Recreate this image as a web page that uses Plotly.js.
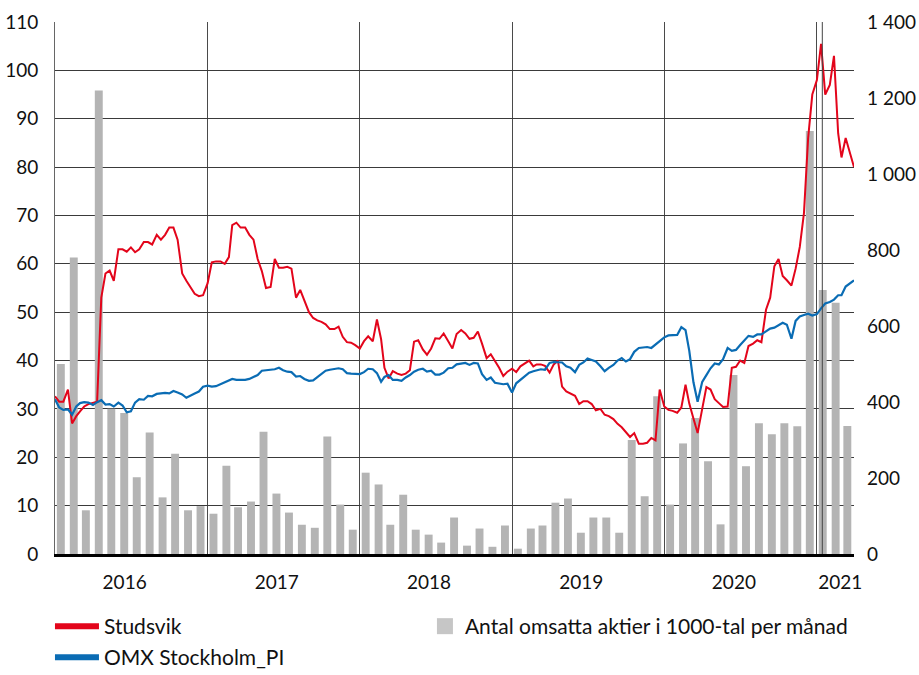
<!DOCTYPE html>
<html>
<head>
<meta charset="utf-8">
<script src="https://cdn.plot.ly/plotly-3.0.1.min.js"></script>
<style>html,body{margin:0;padding:0;background:#fff;}#chart{width:919px;height:675px;}</style>
</head>
<body>
<div id="chart"></div>
<script>
// Monthly traded volume (thousands of shares), Jan 2016 .. Mar 2021
const volume = [
  500, 780, 115, 1220, 382, 371, 202, 320, 149, 264, 115, 126,
  106, 232, 123, 138, 322, 159, 109, 77, 69, 309, 130, 64,
  214, 183, 77, 156, 64, 51, 30, 96, 22, 67, 19, 75,
  14, 67, 75, 135, 146, 56, 96, 96, 56, 300, 152, 415,
  130, 291, 358, 244, 78, 471, 231, 344, 315, 344, 336, 1113,
  695, 661, 337
];

// Studsvik share price, sampled on the 1st, 11th and 21st of each month + 2021-03-31
const studsvik = [
  32.6,31.5,31.5, 34.0,27.0,28.5, 29.5,30.5,31.0, 31.2,31.5,53.0,
  58.0,58.6,56.5, 63.0,63.0,62.5, 63.4,62.4,63.0, 64.5,64.5,64.0,
  66.0,65.0,66.0, 67.5,67.5,65.0, 58.0,56.5,55.0, 53.8,53.3,53.5,
  56.0,60.3,60.5, 60.5,60.0,61.4, 68.0,68.5,67.5, 67.5,66.0,65.0,
  61.0,58.5,55.0, 55.2,61.0,59.2, 59.2,59.4,59.0, 53.0,54.6,52.5,
  50.0,48.8,48.3, 48.0,47.5,46.5, 46.5,47.0,44.9, 43.8,43.7,43.2,
  42.5,44.0,45.0, 44.0,48.5,44.4, 38.5,36.3,37.8, 37.3,37.0,37.3,
  38.0,43.9,44.2, 42.3,41.2,42.5, 44.6,44.5,45.6, 44.0,42.5,45.5,
  46.3,45.6,44.5, 44.7,46.0,43.5, 40.5,41.3,40.0, 38.5,36.8,37.7,
  38.3,37.6,38.8, 39.4,40.0,38.8, 39.2,39.2,38.9, 37.5,39.2,40.0,
  34.6,33.6,33.1, 32.7,31.0,31.6, 31.6,31.0,29.7, 30.0,28.8,28.5,
  27.9,26.9,26.2, 25.2,24.2,25.0, 22.8,22.8,23.0, 24.0,23.5,34.0,
  30.5,29.8,29.6, 29.2,30.3,35.0, 31.1,28.0,25.0, 30.0,34.5,34.0,
  32.0,31.2,30.4, 30.5,38.5,38.7, 40.0,39.5,43.0, 43.5,44.2,43.8,
  50.5,53.0,59.5, 61.0,57.5,56.6, 55.5,59.0,63.5, 70.5,86.0,95.0,
  98.0,105.5,95.0, 97.0,103.0,87.0, 82.0,86.0,83.0,
  80.0
];

// OMX Stockholm_PI (rebased), same sampling
const omx = [
  32.0,30.3,29.8, 29.9,28.8,30.5, 31.2,31.4,31.3, 30.8,31.4,31.8,
  30.9,31.0,30.5, 31.3,30.7,29.3, 29.5,31.3,32.0, 31.9,32.7,32.6,
  33.1,33.2,33.3, 33.2,33.7,33.4, 33.0,32.3,32.8, 33.2,33.6,34.6,
  34.8,34.6,34.7, 35.1,35.5,36.0, 36.2,36.0,36.0, 36.0,36.2,36.6,
  37.0,37.9,38.0, 38.1,38.2,38.5, 38.0,37.7,37.6, 36.7,36.8,36.2,
  35.8,35.9,36.6, 37.2,37.9,38.1, 38.3,38.4,38.2, 37.4,37.3,37.2,
  37.2,37.6,38.3, 38.2,37.4,35.6, 36.6,37.0,36.0, 36.0,35.8,36.5,
  37.0,37.7,38.1, 38.3,37.7,37.9, 37.1,37.1,37.5, 38.4,38.5,39.2,
  39.3,39.5,39.1, 39.5,39.4,37.2, 36.0,36.5,35.4, 35.2,35.1,35.2,
  33.4,35.3,36.0, 36.6,37.5,37.8, 38.0,38.2,38.1, 39.5,39.7,39.6,
  39.6,38.8,38.5, 37.6,39.1,39.6, 40.4,40.1,39.8, 38.8,37.8,38.5,
  39.1,40.0,40.5, 39.8,40.3,41.8, 42.6,42.7,42.8, 42.6,43.3,44.0,
  44.8,45.2,45.2, 45.3,46.9,46.3, 42.0,35.5,31.5, 35.6,37.0,38.4,
  39.4,39.2,40.3, 42.6,42.0,42.2, 43.2,44.2,45.1, 44.9,45.4,45.4,
  46.0,46.6,46.8, 47.3,47.8,47.4, 44.5,48.2,49.1, 49.4,49.7,49.3,
  49.6,50.8,51.8, 52.1,52.6,53.5, 53.5,55.3,56.0,
  56.6
];

const yearLabels = ['2016','2017','2018','2019','2020','2021'];
const yearLabelPos = ['2016-06-16','2017-06-16','2018-06-16','2019-06-16','2020-06-16','2021-02-26'];
const yearLines = ['2017-01-01','2018-01-01','2019-01-01','2020-01-01','2021-01-01'];
const rightTickVals = [0,200,400,600,800,1000,1200,1400];
const rightTickText = ['0','200','400','600','800','1 000','1 200','1 400'];
const names = ['Studsvik','Antal omsatta aktier i 1000-tal per månad','OMX Stockholm_PI'];

function pad(n){return (n<10?'0':'')+n;}
const barDates = volume.map((v,i)=>{const y=2016+Math.floor(i/12), m=i%12+1; return y+'-'+pad(m)+'-15';});
const lineDates = [];
for(let i=0;i<63;i++){const y=2016+Math.floor(i/12), m=i%12+1; [1,11,21].forEach(d=>lineDates.push(y+'-'+pad(m)+'-'+pad(d)));}
lineDates.push('2021-03-31');

const RED='#e3051b', BLUE='#0a6cb4', GREY='#b4b4b4';
const FONT='Lato, "Noto Sans", sans-serif';
const DAY=86400000;

const traces = [
  {type:'bar', x:barDates, y:volume, yaxis:'y', xaxis:'x', marker:{color:GREY, line:{width:0}},
   width:19*DAY, showlegend:false, hoverinfo:'skip'},
  {type:'scatter', mode:'lines', x:lineDates, y:studsvik, yaxis:'y2', line:{color:RED, width:2}, showlegend:false, name:names[0]},
  {type:'scatter', mode:'lines', x:lineDates, y:omx, yaxis:'y2', line:{color:BLUE, width:2.2}, showlegend:false, name:names[2]},
  // legend entries
  {type:'scatter', mode:'lines', x:[null], y:[null], yaxis:'y2', name:names[0], legend:'legend', line:{color:RED, width:6}},
  {type:'scatter', mode:'markers', x:[null], y:[null], yaxis:'y2', name:names[1], legend:'legend2', marker:{symbol:'square', color:'#c6c6c6', size:16}},
  {type:'scatter', mode:'lines', x:[null], y:[null], yaxis:'y2', name:names[2], legend:'legend3', line:{color:BLUE, width:6}}
];

const legFont = {family:FONT, size:21, color:'#111'};
const layout = {
  width:919, height:675,
  margin:{l:55, r:65, t:22, b:121, autoexpand:false},
  paper_bgcolor:'#fff', plot_bgcolor:'#fff',
  font:{family:FONT, size:19, color:'#111'},
  showlegend:true,
  xaxis:{type:'date', range:['2016-01-01','2021-03-31'],
    tickmode:'array', tickvals:yearLabelPos, ticktext:yearLabels, ticks:'', showgrid:false,
    ticklabelstandoff:10,
    minor:{tickmode:'array', tickvals:yearLines, showgrid:true, gridcolor:'#4a4a4a', gridwidth:1, ticks:''},
    showline:true, linecolor:'#000', linewidth:2.5, zeroline:false, fixedrange:true},
  yaxis:{side:'right', range:[0,1400], tickmode:'array', tickvals:rightTickVals, ticktext:rightTickText,
    showgrid:false, zeroline:false, showline:false, ticks:'', ticklabelstandoff:12, fixedrange:true},
  yaxis2:{overlaying:'y', side:'left', range:[0,110], dtick:10, tick0:0,
    showgrid:true, gridcolor:'#3a3a3a', gridwidth:1, zeroline:false,
    showline:true, linecolor:'#666', linewidth:1, ticks:'', ticklabelstandoff:12, fixedrange:true},
  shapes:[{type:'line', xref:'x', yref:'paper', x0:'2021-01-14', x1:'2021-01-14', y0:0, y1:1,
    line:{color:'#444', width:1}}],
  legend:{orientation:'h', x:-0.0063, xanchor:'left', yref:'container', y:0.1022, yanchor:'top',
    font:legFont, itemwidth:44, bgcolor:'rgba(0,0,0,0)'},
  legend2:{orientation:'h', x:0.463, xanchor:'left', yref:'container', y:0.1022, yanchor:'top',
    font:legFont, itemwidth:30, bgcolor:'rgba(0,0,0,0)'},
  legend3:{orientation:'h', x:-0.0063, xanchor:'left', yref:'container', y:0.0563, yanchor:'top',
    font:legFont, itemwidth:44, bgcolor:'rgba(0,0,0,0)'}
};

Plotly.newPlot('chart', traces, layout, {staticPlot:true, displayModeBar:false});
</script>
</body>
</html>
